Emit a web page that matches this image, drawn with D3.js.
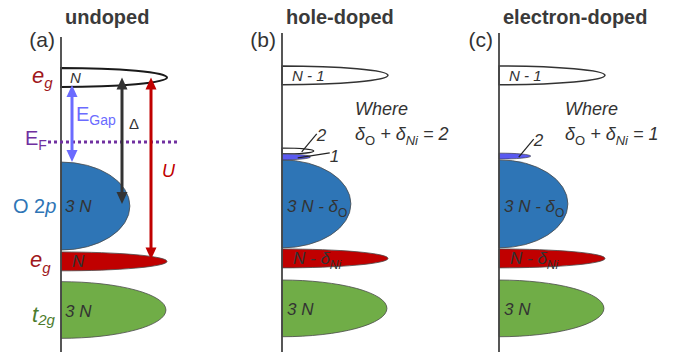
<!DOCTYPE html>
<html>
<head>
<meta charset="utf-8">
<script src="https://cdn.jsdelivr.net/npm/d3@7"></script>
<style>
  body { margin: 0; background: #fff; }
  svg { display: block; font-family: "Liberation Sans", Arial, sans-serif; }
</style>
</head>
<body>
<svg id="chart" width="684" height="352"></svg>
<script>
// ---- data --------------------------------------------------------------
const panelTitles = ["undoped", "hole-doped", "electron-doped"];
const panelTags = ["(a)", "(b)", "(c)"];
// band centre energies (arb. units): upper e_g, O 2p, lower e_g, t2g
const bandCentersA = [8.61, 3.85, 1.80, 0.00];
const bandCentersB = [8.69, 3.93, 1.91, 0.06];
const bandCentersC = [8.69, 3.93, 1.91, 0.06];
// band half-widths (energy) and peak density of states (relative)
const bandHalfWidths = [0.35, 1.63, 0.35, 1.05];
const bandWeights = [1.00, 0.65, 1.00, 0.99];
// in-gap states created by doping
const holeStateE = [5.89, 5.67];
const holeStateW = [0.30, 0.27];
const holeStateTags = ["2", "1"];
const elecStateE = [5.70];
const elecStateW = [0.30];
const elecStateTags = ["2"];
const stateHalfWidth = 0.11;
const fermiLevel = 6.22;
const sumRuleTotals = [2, 1];

// ---- layout ------------------------------------------------------------
const svg = d3.select("#chart");
const axisX = [61, 282, 499];
const eY = d3.scaleLinear().domain([0, 10]).range([310, 40]);
const dosX = d3.scaleLinear().domain([0, 1]).range([0, 106]);

const bandFill = ["#ffffff", "#2e75b6", "#c00000", "#70ad47"];
const ink = "#333333";
const egRed = "#a0181c";

function lobe(e, hw, w) {
  const yc = eY(e), ry = eY(0) - eY(hw), rx = dosX(w);
  return `M0,${yc - ry}A${rx},${ry} 0 0 1 0,${yc + ry}Z`;
}

// text made of runs: [text, {sub, italic, size}]
function rich(g, x, y, runs, base) {
  const t = g.append("text").attr("x", x).attr("y", y)
    .attr("font-size", base.size).attr("fill", base.fill)
    .attr("font-style", base.italic ? "italic" : "normal");
  let shift = 0;
  runs.forEach(([s, o = {}]) => {
    const target = o.sub ? base.subDy || 5 : 0;
    const sp = t.append("tspan").text(s).attr("dy", target - shift);
    shift = target;
    if (o.sub) sp.attr("font-size", o.size || base.size * 0.7);
    else if (o.size) sp.attr("font-size", o.size);
    if (o.italic !== undefined) sp.attr("font-style", o.italic ? "italic" : "normal");
  });
  return t;
}

function arrow(g, x, yTop, yBot, color) {
  const hl = 12, hw = 5.5;
  g.append("line").attr("x1", x).attr("x2", x)
    .attr("y1", yTop + hl - 1).attr("y2", yBot - hl + 1)
    .attr("stroke", color).attr("stroke-width", 3);
  g.append("path").attr("fill", color)
    .attr("d", `M${x},${yTop}L${x - hw},${yTop + hl}L${x + hw},${yTop + hl}Z`);
  g.append("path").attr("fill", color)
    .attr("d", `M${x},${yBot}L${x - hw},${yBot - hl}L${x + hw},${yBot - hl}Z`);
}

const centersByPanel = [bandCentersA, bandCentersB, bandCentersC];

centersByPanel.forEach((centers, p) => {
  const g = svg.append("g").attr("transform", `translate(${axisX[p]},0)`);

  // title and tag
  g.append("text").attr("x", 4).attr("y", 24).text(panelTitles[p])
    .attr("font-size", 20).attr("font-weight", "bold").attr("fill", "#3a3a3a");
  g.append("text").attr("x", -6).attr("y", 47).text(panelTags[p])
    .attr("text-anchor", "end").attr("font-size", 21).attr("fill", "#333");

  // bands, lowest drawn last so overlaps read top-down
  [3, 2, 1, 0].forEach(i => {
    g.append("path").attr("d", lobe(centers[i], bandHalfWidths[i], bandWeights[i]))
      .attr("fill", bandFill[i])
      .attr("stroke", i === 0 ? (p === 0 ? "#1a1a1a" : "#333") : "#4a4a4a")
      .attr("stroke-width", i === 0 ? (p === 0 ? 2 : 1.5) : 0.8);
  });

  // in-gap states
  const sE = p === 1 ? holeStateE : p === 2 ? elecStateE : [];
  const sW = p === 1 ? holeStateW : p === 2 ? elecStateW : [];
  const sT = p === 1 ? holeStateTags : elecStateTags;
  sE.forEach((e, k) => {
    const white = p === 1 && k === 0;
    g.append("path").attr("d", lobe(e, stateHalfWidth, sW[k]))
      .attr("fill", white ? "#ffffff" : "#5a5af0")
      .attr("stroke", white ? "#222" : "#333").attr("stroke-width", white ? 1.2 : 0.6);
    const yc = eY(e), tip = dosX(sW[k]);
    if (sT[k] === "2") {
      g.append("line").attr("x1", tip * 0.62).attr("y1", yc + 1)
        .attr("x2", tip * 0.62 + 15).attr("y2", yc - 17)
        .attr("stroke", "#222").attr("stroke-width", 1.2);
      g.append("text").attr("x", tip * 0.62 + 15).attr("y", yc - 10).text("2")
        .attr("font-size", 17).attr("font-style", "italic").attr("fill", ink);
    } else {
      g.append("line").attr("x1", tip * 0.55).attr("y1", yc + 1)
        .attr("x2", tip * 0.55 + 32).attr("y2", yc - 4)
        .attr("stroke", "#222").attr("stroke-width", 1.2);
      g.append("text").attr("x", tip * 0.55 + 32).attr("y", yc + 5).text(sT[k])
        .attr("font-size", 17).attr("font-style", "italic").attr("fill", ink);
    }
  });

  // band occupancy labels
  const lab = { size: 17, fill: ink, italic: true, subDy: 5 };
  if (p === 0) {
    rich(g, 9, eY(centers[0]) + 5.5, [["N"]], { ...lab, size: 15 });
    rich(g, 4, eY(centers[1]) + 6, [["3 N"]], lab);
    rich(g, 11, eY(centers[2]) + 6, [["N"]], lab);
    rich(g, 4, eY(centers[3]) + 7, [["3 N"]], lab);
  } else {
    rich(g, 10, eY(centers[0]) + 6, [["N - 1"]], { ...lab, size: 15 });
    rich(g, 5, eY(centers[1]) + 8, [["3 N - δ"], ["O", { sub: true, size: 12, italic: false }]], lab);
    rich(g, 11, eY(centers[2]) + 6, [["N - δ"], ["Ni", { sub: true, size: 12 }]], lab);
    rich(g, 5, eY(centers[3]) + 7, [["3 N"]], lab);

    const wx = p === 1 ? 73 : 66;
    rich(g, wx, 115, [["Where"]], { size: 18, fill: ink, italic: true });
    rich(g, wx, 140, [["δ"], ["O", { sub: true, size: 13, italic: false }],
      [" + δ"], ["Ni", { sub: true, size: 13 }], [" = " + sumRuleTotals[p - 1]]],
      { size: 18, fill: ink, italic: true, subDy: 5 });
  }

  // energy axis
  g.append("line").attr("x1", 0).attr("x2", 0)
    .attr("y1", p === 0 ? 37 : 33).attr("y2", 352)
    .attr("stroke", "#444").attr("stroke-width", 1.8);

  if (p === 0) {
    const [up, o2p, low] = centers;
    // Fermi level
    g.append("line").attr("x1", 48 - axisX[0]).attr("x2", 177 - axisX[0])
      .attr("y1", eY(fermiLevel)).attr("y2", eY(fermiLevel))
      .attr("stroke", "#7030a0").attr("stroke-width", 3).attr("stroke-dasharray", "3,3");
    // gap, charge-transfer and Hubbard energies
    arrow(g, 11, eY(up - bandHalfWidths[0]) - 2, eY(o2p + bandHalfWidths[1]), "#6b6bff");
    arrow(g, 61, eY(up), eY(o2p) - 2, "#333");
    arrow(g, 90, eY(up), eY(low) - 2, "#c00000");
    rich(g, 15, 121, [["E"], ["Gap", { sub: true, size: 14 }]], { size: 20, fill: "#6b6bff", subDy: 4 });
    rich(g, 68, 129, [["Δ"]], { size: 15, fill: "#333" });
    rich(g, 101, 177, [["U"]], { size: 18, fill: "#c00000", italic: true });

    // band names on the energy axis
    rich(g, -29, eY(up) + 5, [["e"], ["g", { sub: true, size: 15 }]], { size: 22, fill: egRed, italic: true, subDy: 5 });
    rich(g, -36, eY(fermiLevel) + 3, [["E"], ["F", { sub: true, size: 14 }]], { size: 20, fill: "#7030a0", subDy: 5 });
    rich(g, -48, eY(o2p) + 7, [["O 2"], ["p", { italic: true }]], { size: 20, fill: "#2e75b6" });
    rich(g, -31, eY(low) + 6, [["e"], ["g", { sub: true, size: 15 }]], { size: 22, fill: egRed, italic: true, subDy: 6 });
    rich(g, -29, eY(centers[3]) + 12, [["t"], ["2g", { sub: true, size: 15 }]], { size: 22, fill: "#4d7c2d", italic: true, subDy: 3 });
  }
});
</script>
</body>
</html>
